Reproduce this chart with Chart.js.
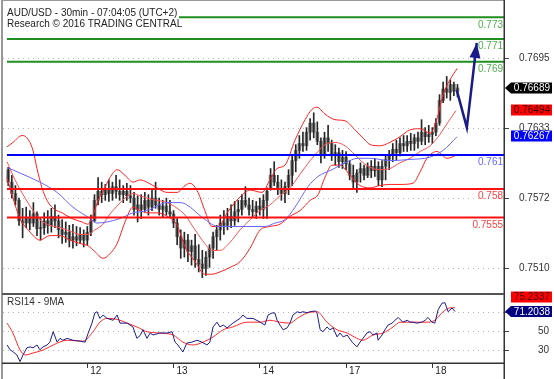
<!DOCTYPE html>
<html><head><meta charset="utf-8">
<script src="https://cdn.jsdelivr.net/npm/chart.js@4/dist/chart.umd.min.js"></script>
<style>
html,body{margin:0;padding:0;background:#fff;}
#wrap{position:relative;width:554px;height:379px;overflow:hidden;background:#fff;}
#c1{position:absolute;left:0;top:0;}
#c2{position:absolute;left:0;top:289px;}
</style></head>
<body><div id="wrap"><canvas id="c1" width="554" height="295"></canvas><canvas id="c2" width="554" height="90"></canvas></div>
<script>
// ---------- data ----------
const titleLines = ['AUD/USD - 30min - 07:04:05 (UTC+2)', 'Research \u00A9 2016 TRADING CENTRAL'];
const rsiTitle = 'RSI14 - 9MA';
const dayTicks = [24, 48, 72, 96, 120];
const dayLabels = ['12', '13', '14', '17', '18'];
const priceTicks = [0.7510, 0.7572, 0.7633, 0.7695];
const rsiTicks = [30, 50, 70];

const barHours = Array.from({length: 126}, (_, i) => i + 2);
const opens = [
0.7597,0.7586,0.7576,0.7570,0.7552,0.7550,0.7555,0.7550,0.7558,0.7545,
0.7546,0.7552,0.7548,0.7556,0.7552,0.7544,0.7540,0.7542,0.7535,0.7538,
0.7535,0.7540,0.7535,0.7542,0.7552,0.7570,0.7578,0.7575,0.7580,0.7576,
0.7582,0.7578,0.7575,0.7578,0.7574,0.7572,0.7562,0.7566,0.7562,0.7570,
0.7564,0.7572,0.7566,0.7562,0.7565,0.7560,0.7558,0.7550,0.7538,0.7528,
0.7535,0.7525,0.7530,0.7518,0.7514,0.7510,0.7520,0.7528,0.7538,0.7544,
0.7550,0.7548,0.7556,0.7552,0.7560,0.7562,0.7570,0.7566,0.7562,0.7560,
0.7565,0.7562,0.7570,0.7580,0.7592,0.7586,0.7580,0.7576,0.7582,0.7592,
0.7605,0.7614,0.7620,0.7618,0.7630,0.7638,0.7630,0.7622,0.7610,0.7625,
0.7620,0.7610,0.7612,0.7604,0.7608,0.7602,0.7592,0.7586,0.7594,0.7598,
0.7592,0.7600,0.7596,0.7600,0.7588,0.7600,0.7606,0.7610,0.7615,0.7612,
0.7620,0.7618,0.7622,0.7620,0.7625,0.7622,0.7630,0.7626,0.7628,0.7630,
0.7638,0.7658,0.7668,0.7665,0.7672,0.7666];
const highs = [
0.7599,0.7592,0.7583,0.7572,0.7563,0.7564,0.7561,0.7568,0.7560,0.7554,
0.7559,0.7561,0.7563,0.7566,0.7557,0.7553,0.7551,0.7548,0.7549,0.7547,
0.7546,0.7544,0.7547,0.7557,0.7575,0.7590,0.7586,0.7584,0.7588,0.7586,
0.7592,0.7588,0.7583,0.7585,0.7583,0.7577,0.7574,0.7575,0.7577,0.7575,
0.7579,0.7586,0.7572,0.7570,0.7572,0.7570,0.7561,0.7554,0.7544,0.7542,
0.7540,0.7535,0.7540,0.7531,0.7526,0.7525,0.7531,0.7542,0.7548,0.7557,
0.7561,0.7563,0.7566,0.7569,0.7570,0.7575,0.7582,0.7572,0.7570,0.7569,
0.7572,0.7575,0.7581,0.7598,0.7604,0.7592,0.7588,0.7586,0.7597,0.7610,
0.7619,0.7627,0.7630,0.7634,0.7642,0.7647,0.7639,0.7625,0.7630,0.7636,
0.7623,0.7619,0.7616,0.7614,0.7613,0.7605,0.7601,0.7597,0.7603,0.7601,
0.7603,0.7605,0.7607,0.7604,0.7605,0.7610,0.7614,0.7620,0.7623,0.7625,
0.7627,0.7627,0.7629,0.7628,0.7630,0.7641,0.7634,0.7636,0.7634,0.7642,
0.7663,0.7674,0.7679,0.7676,0.7674,0.7672];
const lows = [
0.7583,0.7572,0.7566,0.7548,0.7537,0.7546,0.7544,0.7547,0.7539,0.7535,
0.7540,0.7541,0.7542,0.7546,0.7537,0.7532,0.7533,0.7529,0.7528,0.7530,
0.7532,0.7529,0.7531,0.7539,0.7551,0.7566,0.7568,0.7570,0.7569,0.7570,
0.7572,0.7570,0.7568,0.7570,0.7568,0.7557,0.7551,0.7554,0.7560,0.7557,
0.7561,0.7563,0.7557,0.7555,0.7557,0.7555,0.7546,0.7531,0.7519,0.7520,
0.7516,0.7513,0.7511,0.7507,0.7502,0.7504,0.7511,0.7519,0.7526,0.7535,
0.7540,0.7544,0.7546,0.7548,0.7551,0.7557,0.7564,0.7557,0.7555,0.7554,
0.7557,0.7554,0.7554,0.7579,0.7583,0.7575,0.7570,0.7568,0.7575,0.7583,
0.7595,0.7607,0.7613,0.7614,0.7623,0.7625,0.7619,0.7603,0.7607,0.7613,
0.7605,0.7601,0.7599,0.7598,0.7597,0.7588,0.7581,0.7577,0.7586,0.7588,
0.7590,0.7590,0.7591,0.7583,0.7582,0.7588,0.7597,0.7604,0.7605,0.7609,
0.7613,0.7613,0.7614,0.7614,0.7616,0.7619,0.7619,0.7621,0.7620,0.7627,
0.7636,0.7656,0.7660,0.7658,0.7662,0.7661];
const closes = [
0.7586,0.7576,0.7570,0.7552,0.7550,0.7555,0.7550,0.7558,0.7545,0.7546,
0.7552,0.7548,0.7556,0.7552,0.7544,0.7540,0.7542,0.7535,0.7538,0.7535,
0.7540,0.7535,0.7542,0.7552,0.7570,0.7578,0.7575,0.7580,0.7576,0.7582,
0.7578,0.7575,0.7578,0.7574,0.7572,0.7562,0.7566,0.7562,0.7570,0.7564,
0.7572,0.7566,0.7562,0.7565,0.7560,0.7558,0.7550,0.7538,0.7528,0.7535,
0.7525,0.7530,0.7518,0.7514,0.7510,0.7520,0.7528,0.7538,0.7544,0.7550,
0.7548,0.7556,0.7552,0.7560,0.7562,0.7570,0.7566,0.7562,0.7560,0.7565,
0.7562,0.7570,0.7578,0.7592,0.7586,0.7580,0.7576,0.7582,0.7592,0.7605,
0.7614,0.7620,0.7618,0.7630,0.7638,0.7630,0.7622,0.7610,0.7625,0.7620,
0.7610,0.7612,0.7604,0.7608,0.7602,0.7592,0.7586,0.7594,0.7598,0.7592,
0.7600,0.7596,0.7600,0.7588,0.7600,0.7606,0.7610,0.7615,0.7612,0.7620,
0.7618,0.7622,0.7620,0.7625,0.7622,0.7630,0.7626,0.7628,0.7630,0.7638,
0.7658,0.7668,0.7665,0.7672,0.7666,0.76689];

// Bollinger bands [hour, price]
const bbUpper = [[1.66,0.7617],[3.33,0.7621],[5.83,0.7627],[7.22,0.7625],[8.89,0.7614],[10.0,0.7598],[11.4,0.7581],[12.8,0.7570],[14.5,0.7563],[17.0,0.7559],[19.7,0.7554],[22.5,0.7551],[24.2,0.7549],[25.6,0.7557],[27.0,0.7570],[28.4,0.7578],[30.3,0.7590],[32.3,0.7597],[34.5,0.7592],[36.7,0.7586],[38.7,0.7588],[40.6,0.7586],[43.4,0.7581],[46.2,0.7577],[49.0,0.7577],[51.2,0.7583],[52.6,0.7585],[54.8,0.7577],[56.7,0.7561],[58.7,0.7547],[60.4,0.7547],[63.1,0.7560],[66.5,0.7573],[69.3,0.7579],[72.6,0.7577],[74.8,0.7588],[76.8,0.7598],[79.0,0.7601],[81.8,0.7623],[84.6,0.7641],[86.5,0.7650],[87.9,0.7652],[90.1,0.7646],[92.9,0.7641],[95.7,0.7640],[98.5,0.7632],[101.3,0.7623],[102.7,0.7619],[105.4,0.7618],[108.2,0.7621],[111.0,0.7626],[113.8,0.7632],[116.6,0.7633],[119.4,0.7629],[121.3,0.7642],[123.0,0.7663],[124.9,0.7676],[126.9,0.7686]];
const bbMiddle = [[1.66,0.7604],[3.9,0.7588],[6.7,0.7572],[8.9,0.7561],[10.8,0.7553],[13.6,0.7548],[16.4,0.7546],[19.2,0.7543],[22.0,0.7540],[24.2,0.7540],[26.1,0.7544],[28.4,0.7549],[30.3,0.7558],[32.3,0.7565],[34.5,0.7572],[36.7,0.7576],[38.7,0.7574],[40.6,0.7572],[43.4,0.7570],[46.2,0.7568],[49.0,0.7563],[51.2,0.7557],[54.0,0.7544],[56.7,0.7532],[58.7,0.7526],[60.9,0.7526],[63.7,0.7533],[66.5,0.7544],[69.3,0.7553],[72.1,0.7561],[74.8,0.7566],[77.6,0.7574],[80.4,0.7581],[83.2,0.7593],[86.0,0.7605],[88.2,0.7613],[90.1,0.7619],[92.9,0.7621],[95.7,0.7618],[98.5,0.7610],[100.4,0.7604],[102.7,0.7599],[105.4,0.7597],[108.2,0.7598],[111.0,0.7603],[113.8,0.7607],[116.6,0.7613],[119.4,0.7618],[122.1,0.7628],[124.4,0.7639],[126.6,0.7649]];
const bbLower = [[1.66,0.7590],[3.9,0.7566],[5.3,0.7554],[8.1,0.7542],[10.8,0.7535],[13.6,0.7539],[16.4,0.7539],[19.2,0.7535],[22.0,0.7532],[24.2,0.7530],[26.1,0.7525],[28.4,0.7519],[30.3,0.7523],[32.3,0.7532],[34.5,0.7551],[36.7,0.7564],[38.7,0.7561],[40.6,0.7559],[43.4,0.7559],[46.2,0.7556],[49.0,0.7548],[51.2,0.7529],[54.0,0.7516],[56.7,0.7505],[58.7,0.7505],[60.9,0.7507],[63.7,0.7511],[66.5,0.7516],[69.3,0.7528],[72.1,0.7544],[74.8,0.7547],[77.6,0.7549],[80.4,0.7556],[83.2,0.7561],[86.0,0.7570],[88.2,0.7575],[90.1,0.7590],[92.1,0.7601],[94.3,0.7601],[97.1,0.7592],[99.9,0.7583],[102.7,0.7581],[105.4,0.7583],[108.2,0.7584],[111.0,0.7584],[114.6,0.7585],[116.6,0.7595],[118.5,0.7607],[121.3,0.7613],[124.1,0.7607],[126.9,0.7610]];
const maLine = [[1.66,0.7599],[5.3,0.7594],[10.8,0.7586],[15.6,0.7577],[20.0,0.7564],[24.8,0.7554],[26.7,0.7550],[29.5,0.7551],[33.1,0.7554],[36.7,0.7559],[40.6,0.7561],[46.2,0.7568],[49.8,0.7568],[51.2,0.7567],[56.8,0.7553],[60.4,0.7547],[65.1,0.7547],[73.4,0.7547],[76.2,0.7550],[79.0,0.7553],[81.8,0.7564],[85.4,0.7582],[88.2,0.7591],[92.1,0.7597],[95.7,0.7603],[99.3,0.7607],[102.7,0.7607],[108.2,0.7605],[113.8,0.7606],[119.3,0.7608],[123.0,0.7614],[126.9,0.7626]];

const levelValues = [0.7731, 0.7712, 0.7692, 0.7610, 0.7580, 0.7555];
const levelLabels = ['0.773', '0.771', '0.769', '0.761', '0.758', '0.7555'];
const levelStart = 1.66;
const projection = [[126.8,0.7667],[129.6,0.7634],[132.35,0.77085]];

const lastPrice = 0.76689, bbMidLast = 0.76494, maLast = 0.76267;

const rsiLine = [[1.7,36],[2.5,31],[3.3,29],[4.4,25.5],[5.3,18.5],[6.1,25.5],[7.2,33],[8.1,34],[8.9,33],[10.0,36],[10.8,31],[11.7,34],[12.8,36],[13.6,39],[14.5,50],[15.6,39],[16.4,43],[17.2,41],[18.4,43],[20.0,41],[22.0,40],[23.4,39],[24.2,48],[25.3,59],[26.1,69.7],[26.7,71],[27.5,64],[28.4,67.5],[29.5,64],[31.2,62],[32.3,67.5],[33.1,59],[35.1,59],[36.7,55],[37.8,43],[38.7,46],[39.5,52],[40.6,43],[41.5,48.6],[42.3,46.5],[44.2,48.6],[46.2,48.6],[47.6,50],[48.4,39],[49.2,36],[50.6,28.6],[51.7,38],[53.1,39],[54.5,41],[55.9,39],[57.3,36],[58.1,39],[59.0,55],[60.1,60],[60.9,55],[61.8,57],[62.9,54],[64.5,59],[66.5,64],[67.3,67.5],[68.4,64],[70.1,64],[72.1,60],[73.4,57],[74.3,67.5],[75.4,69.7],[76.2,69.7],[76.8,62],[77.6,57],[78.5,52],[79.6,54],[80.4,59],[81.2,67.5],[82.4,71],[83.2,70],[84.0,71],[85.1,70],[86.0,71],[87.4,71.8],[87.9,70],[88.8,52],[89.6,50],[90.7,55],[91.5,52],[92.4,54],[93.5,44.5],[94.3,48.6],[95.2,44.5],[96.3,46.5],[97.7,39],[98.5,36],[99.0,34],[99.9,39],[100.7,43],[101.8,48.6],[102.7,50],[103.5,46.5],[104.6,48.6],[104.9,41],[106.0,46.5],[106.8,52],[107.7,57],[108.8,59],[109.6,62],[110.5,65],[111.8,60],[113.0,62],[113.8,60],[114.6,60],[115.7,59],[117.1,60],[118.0,62],[118.8,65],[119.9,60],[120.7,59],[121.6,73],[122.7,80],[123.5,80.5],[124.4,71],[125.5,75],[126.3,71.2038]];
const rsiMa = [[1.7,59],[3.3,48.6],[5.3,30.7],[6.7,25.5],[8.9,27.6],[11.7,30.7],[14.5,36],[18.4,41],[22.8,40],[25.6,50],[27.5,60],[29.5,64],[32.3,63],[35.1,59],[37.8,55],[40.6,50],[44.2,48.6],[47.9,46.5],[50.6,39],[53.4,36],[56.2,39],[59.0,44.5],[61.8,52],[64.5,55],[68.4,60],[72.1,60],[74.8,62],[77.6,60],[80.4,59],[82.4,64],[85.1,69.5],[87.9,71],[90.7,60],[93.5,52],[96.3,48.6],[99.0,43],[100.7,41],[103.5,46.5],[106.3,48.6],[109.1,55],[111.0,60],[114.6,60],[118.5,60],[120.7,62],[123.0,71],[124.9,75],[126.3,75.2337]];
const rsiLast = 71.2038, rsiMaLast = 75.2337;

// ---------- view ----------
const X_MIN = 0.545, X_MAX = 139.94;
const FONT = '"Liberation Sans", Arial, sans-serif';
const pts = arr => arr.map(p => ({x: p[0], y: p[1]}));
const LBL_GREEN = '#4fae4f';
const levelLine = ['#1f8f1f','#1f8f1f','#1f8f1f','#0000ff','#ff1010','#ff1010'];
const levelText = [LBL_GREEN, LBL_GREEN, LBL_GREEN, '#6666ff', '#ff4040', '#ff4040'];

function noPad(s) { s.paddingTop = 0; s.paddingBottom = 0; s.paddingLeft = 0; s.paddingRight = 0; }
function tag(ctx, yc, text, bg, fg, arrow) {
  const h = 11, x0 = 511, x1 = 552;
  ctx.fillStyle = bg;
  ctx.beginPath();
  if (arrow) { ctx.moveTo(505, yc); ctx.lineTo(x0, yc - h/2); } else { ctx.moveTo(x0, yc - h/2); }
  ctx.lineTo(x1, yc - h/2); ctx.lineTo(x1, yc + h/2); ctx.lineTo(x0, yc + h/2);
  ctx.closePath(); ctx.fill();
  ctx.fillStyle = fg; ctx.font = '10px ' + FONT;
  ctx.textAlign = 'right'; ctx.textBaseline = 'middle';
  ctx.fillText(text, 550, yc + 0.5);
}
function line(ctx, x1, y1, x2, y2, color, w) {
  ctx.strokeStyle = color; ctx.lineWidth = w; ctx.setLineDash([]);
  ctx.beginPath(); ctx.moveTo(x1, y1); ctx.lineTo(x2, y2); ctx.stroke();
}

const overlay1 = {
  id: 'overlay1',
  afterDatasetsDraw(chart) {
    const {ctx, chartArea: a, scales: {x, y}} = chart;
    ctx.save();
    ctx.font = '10px ' + FONT; ctx.textAlign = 'right'; ctx.textBaseline = 'alphabetic';
    levelValues.forEach((v, i) => { ctx.fillStyle = levelText[i]; ctx.fillText(levelLabels[i], a.right - 1, y.getPixelForValue(v) + 10.5); });
    const n = projection.length;
    const x1 = x.getPixelForValue(projection[n-2][0]), y1 = y.getPixelForValue(projection[n-2][1]);
    const x2 = x.getPixelForValue(projection[n-1][0]), y2 = y.getPixelForValue(projection[n-1][1]);
    const ang = Math.atan2(y2 - y1, x2 - x1), L = 15, W = 5.5;
    ctx.fillStyle = '#1a1a8a';
    ctx.beginPath(); ctx.moveTo(x2, y2);
    ctx.lineTo(x2 - L*Math.cos(ang) + W*Math.sin(ang), y2 - L*Math.sin(ang) - W*Math.cos(ang));
    ctx.lineTo(x2 - L*Math.cos(ang) - W*Math.sin(ang), y2 - L*Math.sin(ang) + W*Math.cos(ang));
    ctx.closePath(); ctx.fill();
    ctx.restore();
  },
  afterDraw(chart) {
    const {ctx, chartArea: a, scales: {y}} = chart;
    ctx.save();
    ctx.fillStyle = '#fff'; ctx.fillRect(a.left, 1, 176, 27);
    ctx.fillStyle = '#222'; ctx.font = '10px ' + FONT; ctx.textAlign = 'left'; ctx.textBaseline = 'alphabetic';
    ctx.fillText(titleLines[0], 7, 15.5);
    ctx.fillText(titleLines[1], 7, 27);
    line(ctx, 2, 0, 2, 295, '#333', 1);
    line(ctx, 2, 0.5, 504, 0.5, '#999', 1);
    line(ctx, 504.25, 0, 504.25, 295, '#333', 1.5);
    line(ctx, 2, 294, 504, 294, '#555', 2);
    tag(ctx, y.getPixelForValue(lastPrice), lastPrice.toFixed(5), '#000', '#fff', true);
    tag(ctx, y.getPixelForValue(bbMidLast), bbMidLast.toFixed(5), '#ff0000', '#300', false);
    tag(ctx, y.getPixelForValue(maLast), maLast.toFixed(5), '#0000ff', '#fff', false);
    ctx.restore();
  }
};

const overlay2 = {
  id: 'overlay2',
  afterDraw(chart) {
    const {ctx, chartArea: a, scales: {y}} = chart;
    ctx.save();
    ctx.fillStyle = '#333'; ctx.font = '10px ' + FONT; ctx.textAlign = 'left'; ctx.textBaseline = 'alphabetic';
    ctx.fillText(rsiTitle, 7, a.top + 10);
    line(ctx, 2, a.top, 2, 90, '#333', 1);
    line(ctx, 504.25, a.top, 504.25, 90, '#333', 1.5);
    line(ctx, 2, a.bottom + 0.25, 504, a.bottom + 0.25, '#333', 1.5);
    const yb = y.getPixelForValue(rsiLast);
    let yr = y.getPixelForValue(rsiMaLast);
    if (Math.abs(yr - yb) < 14) yr = yb - 14.5;
    tag(ctx, yr, rsiMaLast.toFixed(4), '#ff0000', '#400', false);
    tag(ctx, yb, rsiLast.toFixed(4), '#000080', '#fff', true);
    ctx.restore();
  }
};

const levelSets = levelValues.map((v, i) => ({
  type: 'line', data: [{x: levelStart, y: v}, {x: X_MAX, y: v}],
  borderColor: levelLine[i], borderWidth: 2, pointRadius: 0, order: 2
}));
const bandStyle = {type: 'line', borderWidth: 1, pointRadius: 0, cubicInterpolationMode: 'monotone', order: 5};

new Chart(document.getElementById('c1'), {
  type: 'line',
  data: {
    datasets: [
      {type: 'line', data: pts(projection), borderColor: '#1a1a8a', borderWidth: 2.5, pointRadius: 0, tension: 0, order: 1},
      ...levelSets,
      {type: 'line', data: pts(maLine), borderColor: '#6666ff', borderWidth: 1, pointRadius: 0, cubicInterpolationMode: 'monotone', order: 4},
      Object.assign({data: pts(bbUpper), borderColor: '#ff2020'}, bandStyle),
      Object.assign({data: pts(bbMiddle), borderColor: '#ff5050'}, bandStyle),
      Object.assign({data: pts(bbLower), borderColor: '#ff2020'}, bandStyle),
      {type: 'bar', data: barHours.map((h, i) => ({x: h, y: [lows[i], highs[i]]})), backgroundColor: '#262626', barThickness: 1, grouped: false, order: 8},
      {type: 'bar', data: barHours.map((h, i) => ({x: h, y: [opens[i], closes[i]]})), backgroundColor: '#808080', barThickness: 3, grouped: false, order: 9}
    ]
  },
  options: {
    responsive: false, animation: false, devicePixelRatio: 1,
    layout: {padding: {left: 3, right: 0, top: 1, bottom: 1}, autoPadding: false},
    plugins: {legend: {display: false}, tooltip: {enabled: false}},
    scales: {
      x: {type: 'linear', min: X_MIN, max: X_MAX, offset: false, display: false},
      y: {
        position: 'right', min: 0.74876, max: 0.77454,
        afterFit(s) { s.width = 50; noPad(s); },
        afterBuildTicks(s) { s.ticks = priceTicks.map(v => ({value: v})); },
        ticks: {callback: v => v.toFixed(4), font: {family: FONT, size: 10}, color: '#333', padding: 10},
        grid: {color: '#b4b4b4', tickColor: '#444', tickLength: 5, tickBorderDash: [], lineWidth: 1},
        border: {display: false, dash: [1, 4]}
      }
    }
  },
  plugins: [overlay1]
});

new Chart(document.getElementById('c2'), {
  type: 'line',
  data: {
    datasets: [
      {data: pts(rsiMa), borderColor: '#ff2a2a', borderWidth: 1, pointRadius: 0, cubicInterpolationMode: 'monotone', order: 2},
      {data: pts(rsiLine), borderColor: '#1c1c8c', borderWidth: 1, pointRadius: 0, tension: 0, order: 1}
    ]
  },
  options: {
    responsive: false, animation: false, devicePixelRatio: 1,
    layout: {padding: {left: 3, right: 0, top: 6, bottom: 0}, autoPadding: false},
    plugins: {legend: {display: false}, tooltip: {enabled: false}},
    scales: {
      x: {
        type: 'linear', min: X_MIN, max: X_MAX, offset: false,
        afterFit(s) { s.height = 16; noPad(s); },
        afterBuildTicks(s) { s.ticks = dayTicks.map(v => ({value: v})); },
        ticks: {callback: v => dayLabels[dayTicks.indexOf(v)], align: 'start', labelOffset: 3, padding: -3, maxRotation: 0, autoSkip: false, font: {family: FONT, size: 10}, color: '#222'},
        grid: {drawOnChartArea: false, tickLength: 5, tickColor: '#333'},
        border: {display: false}
      },
      y: {
        position: 'right', min: 17.05, max: 88.6,
        afterFit(s) { s.width = 50; noPad(s); },
        afterBuildTicks(s) { s.ticks = rsiTicks.map(v => ({value: v})); },
        ticks: {callback: v => String(v), font: {family: FONT, size: 10}, color: '#333', padding: 29},
        grid: {color: '#b4b4b4', tickColor: '#444', tickLength: 5, tickBorderDash: []},
        border: {display: false, dash: [1, 4]}
      }
    }
  },
  plugins: [overlay2]
});
</script>
</body></html>
